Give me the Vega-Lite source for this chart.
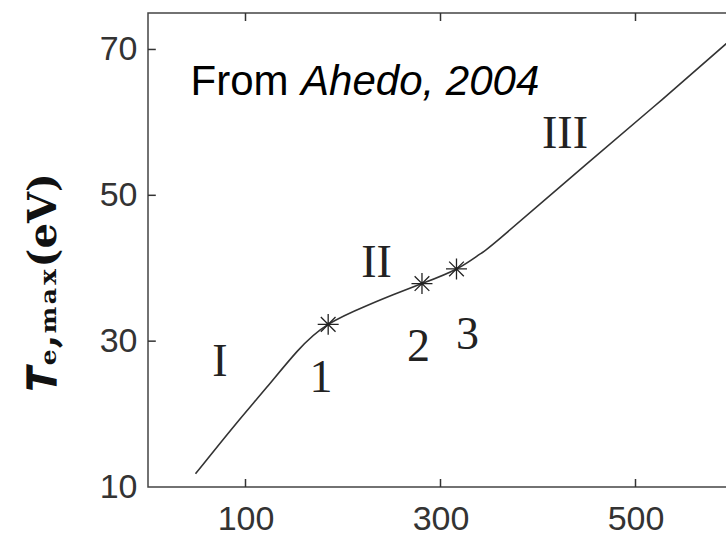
{
  "$schema": "https://vega.github.io/schema/vega-lite/v6.json",
  "width": 585,
  "height": 474,
  "autosize": {"type": "none"},
  "padding": {"left": 148, "top": 13, "right": 0, "bottom": 51},
  "background": "white",
  "config": {
    "view": {"stroke": "#444", "strokeWidth": 1.5},
    "axis": {
      "grid": false,
      "domain": false,
      "ticks": false,
      "tickSize": 0,
      "labelFont": "Liberation Sans",
      "labelFontSize": 34,
      "labelColor": "#333"
    }
  },
  "datasets": {
    "curve": [
      {"v": 48.7, "t": 11.8},
      {"v": 88, "t": 18.3},
      {"v": 122, "t": 23.7},
      {"v": 153, "t": 28.6},
      {"v": 184.8, "t": 32.3},
      {"v": 224.8, "t": 34.9},
      {"v": 252, "t": 36.4},
      {"v": 281, "t": 37.9},
      {"v": 316.4, "t": 39.9},
      {"v": 340, "t": 41.9},
      {"v": 362, "t": 44.2},
      {"v": 450, "t": 54.3},
      {"v": 527, "t": 63.1},
      {"v": 600, "t": 71.6}
    ],
    "stars": [
      {"v": 184.8, "t": 32.3},
      {"v": 281, "t": 37.9},
      {"v": 316.4, "t": 39.9}
    ],
    "marks": [
      {"v": 73.8, "t": 27.2, "label": "I"},
      {"v": 234.4, "t": 40.7, "label": "II"},
      {"v": 427.7, "t": 58.4, "label": "III"},
      {"v": 177.4, "t": 24.9, "label": "1"},
      {"v": 277.4, "t": 29.2, "label": "2"},
      {"v": 327.7, "t": 30.9, "label": "3"}
    ],
    "xticks": [{"v": 100}, {"v": 300}, {"v": 500}],
    "yticks": [{"t": 30}, {"t": 50}, {"t": 70}]
  },
  "layer": [
    {
      "data": {"name": "curve"},
      "mark": {"type": "line", "interpolate": "natural", "color": "#333", "strokeWidth": 1.6},
      "encoding": {
        "x": {
          "field": "v", "type": "quantitative",
          "scale": {"domain": [0, 600], "nice": false, "zero": false},
          "axis": {"values": [100, 300, 500], "title": null, "labelPadding": 15}
        },
        "y": {
          "field": "t", "type": "quantitative",
          "scale": {"domain": [10, 75], "nice": false, "zero": false},
          "axis": {
            "values": [10, 30, 50, 70],
            "labelPadding": 11,
            "title": "𝑻ₑ,ₘₐₓ(eV)",
            "titleFont": "DejaVu Serif",
            "titleFontSize": 40,
            "titleFontWeight": "bold",
            "titleColor": "#111",
            "titleAngle": -90,
            "titleAlign": "center",
            "titleBaseline": "middle",
            "titleX": -105,
            "titleY": 268
          }
        }
      }
    },
    {
      "data": {"name": "xticks"},
      "mark": {"type": "rule", "color": "#333", "strokeWidth": 1.5},
      "encoding": {
        "x": {"field": "v", "type": "quantitative"},
        "y": {"datum": 10, "type": "quantitative"},
        "y2": {"datum": 11.1}
      }
    },
    {
      "data": {"name": "xticks"},
      "mark": {"type": "rule", "color": "#333", "strokeWidth": 1.5},
      "encoding": {
        "x": {"field": "v", "type": "quantitative"},
        "y": {"datum": 75, "type": "quantitative"},
        "y2": {"datum": 73.9}
      }
    },
    {
      "data": {"name": "yticks"},
      "mark": {"type": "rule", "color": "#333", "strokeWidth": 1.5},
      "encoding": {
        "y": {"field": "t", "type": "quantitative"},
        "x": {"datum": 0, "type": "quantitative"},
        "x2": {"datum": 8}
      }
    },
    {
      "data": {"name": "stars"},
      "mark": {
        "type": "point",
        "shape": "M-1,0L1,0M0,-1L0,1M-0.7,-0.7L0.7,0.7M-0.7,0.7L0.7,-0.7",
        "size": 440,
        "filled": false,
        "stroke": "#222",
        "strokeWidth": 1.3,
        "opacity": 1
      },
      "encoding": {
        "x": {"field": "v", "type": "quantitative"},
        "y": {"field": "t", "type": "quantitative"}
      }
    },
    {
      "data": {"name": "marks"},
      "mark": {
        "type": "text",
        "font": "Liberation Serif",
        "fontSize": 46,
        "color": "#222",
        "align": "center",
        "baseline": "middle"
      },
      "encoding": {
        "x": {"field": "v", "type": "quantitative"},
        "y": {"field": "t", "type": "quantitative"},
        "text": {"field": "label"}
      }
    },
    {
      "data": {"values": [{"v": 43.6, "t": 63.7, "label": "From"}]},
      "mark": {
        "type": "text",
        "font": "Liberation Sans",
        "fontSize": 42,
        "color": "#000",
        "align": "left",
        "baseline": "alphabetic"
      },
      "encoding": {
        "x": {"field": "v", "type": "quantitative"},
        "y": {"field": "t", "type": "quantitative"},
        "text": {"field": "label"}
      }
    },
    {
      "data": {"values": [{"v": 157, "t": 63.7, "label": "Ahedo, 2004"}]},
      "mark": {
        "type": "text",
        "font": "Liberation Sans",
        "fontSize": 42,
        "fontStyle": "italic",
        "color": "#000",
        "align": "left",
        "baseline": "alphabetic"
      },
      "encoding": {
        "x": {"field": "v", "type": "quantitative"},
        "y": {"field": "t", "type": "quantitative"},
        "text": {"field": "label"}
      }
    }
  ]
}
